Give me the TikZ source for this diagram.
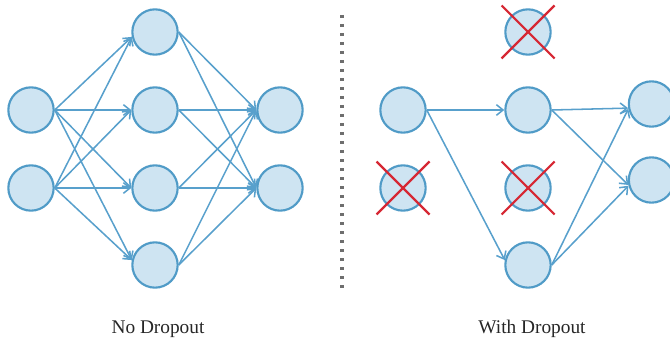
\documentclass[tikz,border=0pt]{standalone}
\usepackage{fontspec}
\setmainfont{Liberation Serif}
\usetikzlibrary{arrows.meta}
\definecolor{nborder}{RGB}{80,155,199}
\definecolor{nfill}{RGB}{206,228,242}
\definecolor{edgecol}{RGB}{88,160,204}
\definecolor{xred}{RGB}{214,40,52}
\definecolor{dotgray}{RGB}{110,110,110}
\tikzset{
  neuron/.style={circle, draw=nborder, fill=nfill, line width=1.6pt, minimum size=34pt, inner sep=0pt},
  conn/.style={draw=edgecol, line width=1.15pt, -{Straight Barb[length=5pt,width=8pt]}},
  crossline/.style={draw=xred, line width=1.6pt},
  caption/.style={font=\fontsize{14.5}{16}\selectfont, anchor=base, text=black!85},
  sep/.style={draw=dotgray, line width=2.6pt, dash pattern=on 2.6pt off 4.15pt}
}
\begin{document}
\begin{tikzpicture}[x=0.75pt, y=-0.75pt]
\clip (0,0) rectangle (670,342);
\useasboundingbox (0,0) rectangle (670,342);
% ---------- left network ----------
\node[neuron] (a1) at (31,110) {};
\node[neuron] (a2) at (31,188) {};
\node[neuron] (b1) at (155,32) {};
\node[neuron] (b2) at (155,110) {};
\node[neuron] (b3) at (155,188) {};
\node[neuron] (b4) at (155,265) {};
\node[neuron] (c1) at (280,110) {};
\node[neuron] (c2) at (280,188) {};
\foreach \s in {a1,a2}{
  \draw[conn] (\s.east) -- (b1.192);
  \draw[conn] (\s.east) -- (b2.west);
  \draw[conn] (\s.east) -- (b3.west);
  \draw[conn] (\s.east) -- (b4.168);
}
\foreach \s in {b1,b2,b3,b4}{
  \draw[conn] (\s.east) -- (c1.west);
  \draw[conn] (\s.east) -- (c2.west);
}
% ---------- separator ----------
\coordinate (s1) at (342,15);
\coordinate (s2) at (342,288);
\draw[sep] (s1) -- (s2);
% ---------- right network ----------
\node[neuron] (d1) at (403,110) {};
\node[neuron] (d2) at (403,188) {};
\node[neuron] (e1) at (528,32) {};
\node[neuron] (e2) at (528,110) {};
\node[neuron] (e3) at (528,188) {};
\node[neuron] (e4) at (528,265) {};
\node[neuron] (f1) at (651.5,104) {};
\node[neuron] (f2) at (651.5,180) {};
\draw[conn] (d1.east) -- (e2.west);
\draw[conn] (d1.east) -- (e4.168);
\draw[conn] (e2.east) -- (f1.190);
\draw[conn] (e2.east) -- (f2.192);
\draw[conn] (e4.east) -- (f1.192);
\draw[conn] (e4.east) -- (f2.194);
% crosses
\foreach \n in {d2,e1,e3}{
  \draw[crossline] ([shift={(-26.5,-26.5)}]\n.center) -- ([shift={(26.5,26.5)}]\n.center);
  \draw[crossline] ([shift={(-26.5,26.5)}]\n.center) -- ([shift={(26.5,-26.5)}]\n.center);
}
% ---------- captions ----------
\node[caption] (t1) at (158,333) {No Dropout};
\node[caption] (t2) at (532,333) {With Dropout};
\end{tikzpicture}
\end{document}
